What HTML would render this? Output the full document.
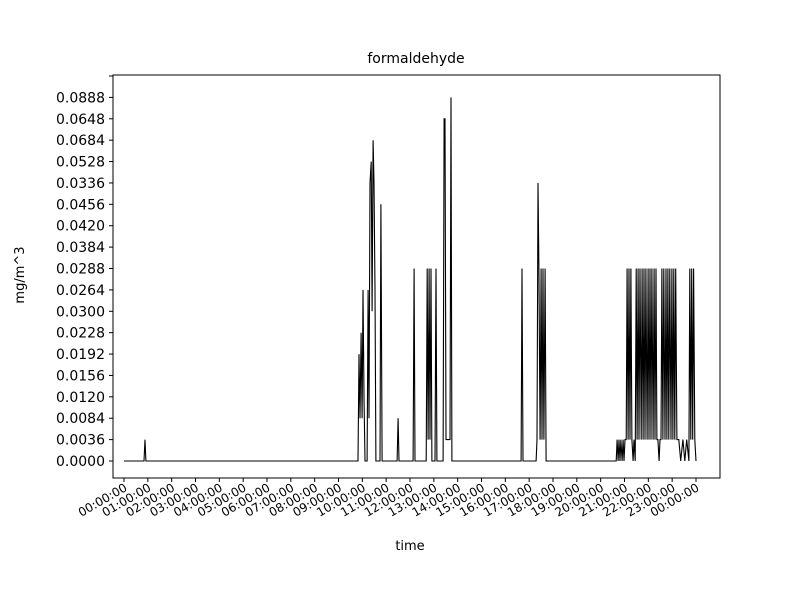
<!DOCTYPE html>
<html><head><meta charset="utf-8"><style>
body{margin:0;background:#fff;}
svg text{font-family:"DejaVu Sans","Liberation Sans",sans-serif;}
</style></head><body>
<svg id="chart" width="800" height="600" xmlns="http://www.w3.org/2000/svg">
<rect width="800" height="600" fill="#fff"/>
<text x="416" y="63" font-size="14" text-anchor="middle">formaldehyde</text>
<text x="410" y="550" font-size="13" text-anchor="middle">time</text>
<text transform="translate(24,275) rotate(-90)" font-size="13" text-anchor="middle">mg/m^3</text>
<g id="yticks"></g><g id="xticks"></g>
<polyline id="line" fill="none" stroke="#000" stroke-width="1.1"/>
<rect x="113" y="75" width="607" height="403" fill="none" stroke="#000" stroke-width="1"/>
</svg>
<script>
const categories=["0.0000","0.0036","0.0084","0.0120","0.0156","0.0192","0.0228","0.0300","0.0264","0.0288","0.0384","0.0420","0.0456","0.0336","0.0528","0.0684","0.0648","0.0888",""];
const xTickLabels=["00:00:00","01:00:00","02:00:00","03:00:00","04:00:00","05:00:00","06:00:00","07:00:00","08:00:00","09:00:00","10:00:00","11:00:00","12:00:00","13:00:00","14:00:00","15:00:00","16:00:00","17:00:00","18:00:00","19:00:00","20:00:00","21:00:00","22:00:00","23:00:00","00:00:00"];
const times=[
0,0.84,0.88,0.92,
9.82,9.86,9.9,9.95,9.99,10.03,10.07,10.11,
10.2,10.24,10.28,10.32,10.37,10.41,10.45,10.49,10.53,10.57,10.62,
10.74,10.78,10.83,
11.46,11.5,11.54,
12.13,12.17,12.21,
12.68,12.72,12.76,12.8,12.84,12.88,12.92,
13.05,13.09,13.13,
13.39,13.43,13.47,13.51,13.68,13.72,13.76,
16.66,16.7,16.74,
17.29,17.33,17.37,17.41,17.46,17.5,17.54,17.58,17.62,17.67,17.71,
20.65,20.69,20.73,20.77,20.81,20.85,20.9,20.94,20.98,21.02,21.07,
21.11,21.15,21.19,21.23,21.27,21.31,
21.36,21.4,21.45,
21.49,21.53,21.57,21.61,21.65,21.7,21.74,21.78,21.82,21.86,21.9,21.95,21.99,22.03,22.07,22.11,22.15,22.2,22.24,22.28,22.32,22.36,
22.4,22.45,22.49,22.53,
22.57,22.61,22.65,22.7,22.74,22.78,22.82,22.86,22.9,22.95,22.99,23.03,23.07,23.11,23.15,23.2,
23.28,23.36,23.45,23.53,23.61,23.7,
23.74,23.78,23.82,23.86,23.9,23.95,24.0];
const values=[
"0.0000","0.0000","0.0036","0.0000",
"0.0000","0.0192","0.0084","0.0228","0.0084","0.0264","0.0120","0.0000",
"0.0000","0.0264","0.0084","0.0336","0.0528","0.0300","0.0684","0.0336","0.0264","0.0000","0.0000",
"0.0000","0.0456","0.0000",
"0.0000","0.0084","0.0000",
"0.0000","0.0288","0.0000",
"0.0000","0.0288","0.0036","0.0288","0.0036","0.0288","0.0000",
"0.0000","0.0288","0.0000",
"0.0000","0.0648","0.0648","0.0036","0.0036","0.0888","0.0000",
"0.0000","0.0288","0.0000",
"0.0000","0.0036","0.0336","0.0288","0.0036","0.0288","0.0036","0.0288","0.0036","0.0288","0.0000",
"0.0000","0.0036","0.0000","0.0036","0.0000","0.0036","0.0000","0.0036","0.0000","0.0036","0.0036",
"0.0288","0.0036","0.0288","0.0036","0.0288","0.0036",
"0.0000","0.0036","0.0000",
"0.0288","0.0036","0.0288","0.0036","0.0288","0.0036","0.0288","0.0036","0.0288","0.0036","0.0288","0.0036","0.0288","0.0036","0.0288","0.0036","0.0288","0.0036","0.0288","0.0036","0.0288","0.0036",
"0.0036","0.0000","0.0036","0.0036",
"0.0288","0.0036","0.0288","0.0036","0.0288","0.0036","0.0288","0.0036","0.0288","0.0036","0.0288","0.0036","0.0288","0.0036","0.0288","0.0036",
"0.0036","0.0000","0.0036","0.0000","0.0036","0.0000",
"0.0288","0.0036","0.0288","0.0036","0.0288","0.0036","0.0000"];
const NS="http://www.w3.org/2000/svg";
function xScale(h){return 124+h*(696-124)/24;}
function yScale(c){const i=Math.max(0,categories.indexOf(c));return 461-i*(461-76)/18;}
const yt=document.getElementById('yticks');
categories.forEach((c,i)=>{
 const y=461-i*(461-76)/18;
 const l=document.createElementNS(NS,'line');
 
 
 l.setAttribute('x1',109);l.setAttribute('x2',113);l.setAttribute('y1',y);l.setAttribute('y2',y);l.setAttribute('stroke','#000');
 yt.appendChild(l);
 const t=document.createElementNS(NS,'text');
 
 
 t.setAttribute('x',105);t.setAttribute('y',y+5);t.setAttribute('font-size','14');t.setAttribute('text-anchor','end');
 t.textContent=c;yt.appendChild(t);
});
const xt=document.getElementById('xticks');
xTickLabels.forEach((s,i)=>{
 const x=xScale(i);
 const l=document.createElementNS(NS,'line');
 
 
 l.setAttribute('x1',x);l.setAttribute('x2',x);l.setAttribute('y1',478);l.setAttribute('y2',482);l.setAttribute('stroke','#000');
 xt.appendChild(l);
 const t=document.createElementNS(NS,'text');
 
 
 t.setAttribute('font-size','12');t.setAttribute('text-anchor','end');
 t.setAttribute('transform','translate('+(x+4)+',490) rotate(-30)');
 t.textContent=s;xt.appendChild(t);
});
document.getElementById('line').setAttribute('points',times.map((h,i)=>xScale(h).toFixed(1)+','+yScale(values[i]).toFixed(1)).join(' '));
</script>
</body></html>
